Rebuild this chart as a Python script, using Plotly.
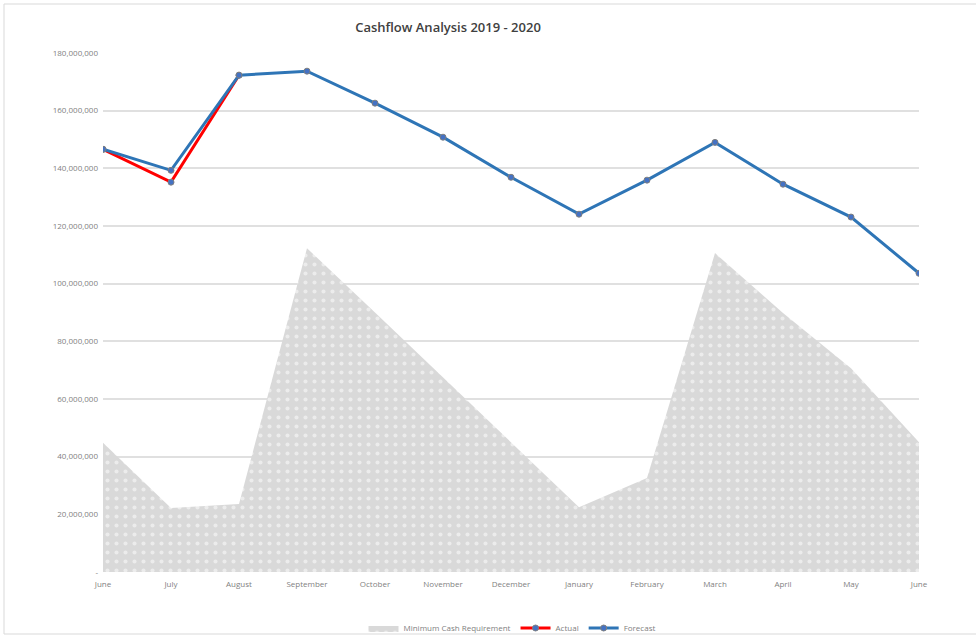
import plotly.graph_objects as go

months = ["June", "July", "August", "September", "October", "November", "December",
          "January", "February", "March", "April", "May", "June"]
min_cash = [44.8e6, 22.2e6, 23.6e6, 112.3e6, 90.0e6, 67.5e6, 45.0e6,
            22.5e6, 32.6e6, 110.6e6, 89.8e6, 70.7e6, 45.0e6]
actual = [146.6e6, 135.2e6, 172.3e6]
forecast = [146.6e6, 139.3e6, 172.3e6, 173.7e6, 162.6e6, 150.8e6, 136.9e6,
            124.1e6, 135.9e6, 149.0e6, 134.5e6, 123.1e6, 103.6e6]
y_ticks = [0, 20e6, 40e6, 60e6, 80e6, 100e6, 120e6, 140e6, 160e6, 180e6]
y_tick_labels = ["-", "20,000,000", "40,000,000", "60,000,000", "80,000,000", "100,000,000",
                 "120,000,000", "140,000,000", "160,000,000", "180,000,000"]

x = list(range(len(months)))

fig = go.Figure()
fig.add_trace(go.Scatter(
    x=x, y=min_cash, name="Minimum Cash Requirement", mode="lines",
    line=dict(width=0, color="#d9d9d9"), fill="tozeroy", fillcolor="#d9d9d9",
    fillpattern=dict(shape=".", bgcolor="#d9d9d9", fgcolor="#ffffff", size=9, solidity=0.16),
))
fig.add_trace(go.Scatter(
    x=x[:len(actual)], y=actual, name="Actual", mode="lines+markers",
    line=dict(color="#ff0000", width=3),
    marker=dict(size=6, color="#4472c4", line=dict(color="#7f7f7f", width=1)),
))
fig.add_trace(go.Scatter(
    x=x, y=forecast, name="Forecast", mode="lines+markers",
    line=dict(color="#2e75b6", width=3),
    marker=dict(size=6, color="#4472c4", line=dict(color="#7f7f7f", width=1)),
))

fig.update_layout(
    autosize=False,
    width=976, height=638,
    margin=dict(l=103, r=57, t=53, b=66, autoexpand=False),
    paper_bgcolor="white", plot_bgcolor="white",
    title=dict(text="Cashflow Analysis 2019 - 2020", x=448/976, xanchor="center",
               y=1 - 27/638, yanchor="middle",
               font=dict(family="Open Sans", size=13, color="#404040", weight=600)),
    font=dict(family="Open Sans", size=8, color="#7f7f7f"),
    showlegend=True,
    legend=dict(orientation="h", x=512/976, xanchor="center", xref="container",
                y=(638 - 628) / 638, yref="container", yanchor="middle",
                font=dict(size=8, color="#7f7f7f"),
                bgcolor="rgba(0,0,0,0)", itemwidth=30, tracegroupgap=0),
    xaxis=dict(range=[0, len(months) - 1], tickvals=x, ticktext=months,
               showgrid=False, zeroline=False, showline=False, ticks="",
               ticklabelstandoff=6,
               tickfont=dict(size=8, color="#7f7f7f")),
    yaxis=dict(range=[0, 180e6], tickvals=y_ticks, ticktext=y_tick_labels,
               showgrid=True, gridcolor="#e0e0e0", gridwidth=1.5, zeroline=False,
               showline=False, ticks="", ticklen=0, ticklabelstandoff=4,
               tickfont=dict(size=8, color="#7f7f7f")),
    shapes=[dict(type="rect", xref="paper", yref="paper",
                 x0=-99/816, x1=1 + 60/816, y0=-62/519, y1=1 + 49/519,
                 line=dict(color="#d9d9d9", width=1), fillcolor="rgba(0,0,0,0)", layer="below")],
)

fig.write_html(
    "out.html",
    config={"displayModeBar": False, "responsive": False},
    post_script="document.body.style.margin='0';document.body.style.overflow='hidden';",
)
